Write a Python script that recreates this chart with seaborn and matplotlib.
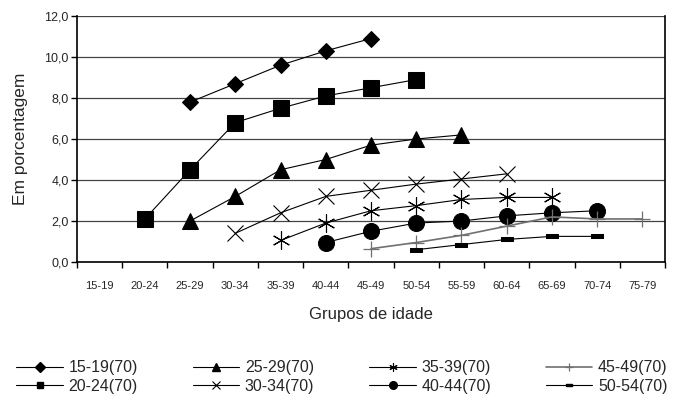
import matplotlib
matplotlib.use("Agg")
import matplotlib.pyplot as plt
import seaborn as sns
import pandas as pd
from matplotlib.lines import Line2D
from matplotlib.ticker import FixedLocator, NullFormatter, FixedFormatter

categories = ['15-19', '20-24', '25-29', '30-34', '35-39', '40-44', '45-49',
              '50-54', '55-59', '60-64', '65-69', '70-74', '75-79']

series_names = ['15-19(70)', '20-24(70)', '25-29(70)', '30-34(70)',
                '35-39(70)', '40-44(70)', '45-49(70)', '50-54(70)']

s15_19_x = ['25-29', '30-34', '35-39', '40-44', '45-49']
s15_19_y = [7.8, 8.7, 9.6, 10.3, 10.9]
s20_24_x = ['20-24', '25-29', '30-34', '35-39', '40-44', '45-49', '50-54']
s20_24_y = [2.1, 4.5, 6.8, 7.5, 8.1, 8.5, 8.9]
s25_29_x = ['25-29', '30-34', '35-39', '40-44', '45-49', '50-54', '55-59']
s25_29_y = [2.0, 3.2, 4.5, 5.0, 5.7, 6.0, 6.2]
s30_34_x = ['30-34', '35-39', '40-44', '45-49', '50-54', '55-59', '60-64']
s30_34_y = [1.4, 2.4, 3.2, 3.5, 3.8, 4.05, 4.3]
s35_39_x = ['35-39', '40-44', '45-49', '50-54', '55-59', '60-64', '65-69']
s35_39_y = [1.05, 1.9, 2.5, 2.75, 3.05, 3.15, 3.15]
s40_44_x = ['40-44', '45-49', '50-54', '55-59', '60-64', '65-69', '70-74']
s40_44_y = [0.95, 1.5, 1.9, 2.0, 2.25, 2.4, 2.5]
s45_49_x = ['45-49', '50-54', '55-59', '60-64', '65-69', '70-74', '75-79']
s45_49_y = [0.65, 0.95, 1.3, 1.75, 2.2, 2.1, 2.1]
s50_54_x = ['50-54', '55-59', '60-64', '65-69', '70-74']
s50_54_y = [0.6, 0.85, 1.1, 1.25, 1.25]

y_ticks = [0, 2, 4, 6, 8, 10, 12]
y_tick_labels = ['0,0', '2,0', '4,0', '6,0', '8,0', '10,0', '12,0']

sns.set_style("white")
plt.rcParams['font.family'] = ['Liberation Sans', 'DejaVu Sans']

fig = plt.figure(figsize=(6.93, 4.0), dpi=100)
ax = fig.add_axes([77/693, 1-262/400, (665-77)/693, (262-16)/400])

dash = [(-1, -0.38), (1, -0.38), (1, 0.38), (-1, 0.38), (-1, -0.38)]
styles = [
    dict(marker='D', markersize=8, color='black'),
    dict(marker='s', markersize=11, color='black'),
    dict(marker='^', markersize=12, color='black'),
    dict(marker='x', markersize=12, color='black', markeredgewidth=0.8),
    dict(marker=(6, 2, 0), markersize=13, color='black', markeredgewidth=0.8),
    dict(marker='o', markersize=11.5, color='black'),
    dict(marker='+', markersize=12, color='#707070', markeredgewidth=0.9),
    dict(marker=dash, markersize=8, color='black'),
]
legend_ms = [5, 5, 5.5, 5.5, 6, 5.5, 5.5, 4.5]
xs = [s15_19_x, s20_24_x, s25_29_x, s30_34_x, s35_39_x, s40_44_x, s45_49_x, s50_54_x]
ys = [s15_19_y, s20_24_y, s25_29_y, s30_34_y, s35_39_y, s40_44_y, s45_49_y, s50_54_y]

handles = []
for name, x, y, st, lms in zip(series_names, xs, ys, styles, legend_ms):
    df = pd.DataFrame({'pos': [categories.index(c) for c in x], 'val': y})
    lw = 1.2 if st['color'] != 'black' else 0.8
    sns.lineplot(data=df, x='pos', y='val', ax=ax, legend=False,
                 linewidth=lw, markeredgecolor=st['color'],
                 markerfacecolor=st['color'], **st)
    hst = dict(st)
    hst['markersize'] = lms
    handles.append(Line2D([], [], linewidth=lw, markeredgecolor=st['color'],
                          markerfacecolor=st['color'], **hst))

ax.set_xlim(-0.5, len(categories) - 0.5)
ax.set_ylim(0, 12)
ax.set_yticks(y_ticks)
ax.set_yticklabels(y_tick_labels, fontsize=9)
ax.yaxis.grid(True, color='#444444', linewidth=0.9)
ax.set_axisbelow(True)

ax.xaxis.set_major_locator(FixedLocator([i - 0.5 for i in range(len(categories) + 1)]))
ax.xaxis.set_major_formatter(NullFormatter())
ax.xaxis.set_minor_locator(FixedLocator(list(range(len(categories)))))
ax.xaxis.set_minor_formatter(FixedFormatter(categories))
ax.tick_params(axis='x', which='major', direction='out', length=4, width=1, color='black', bottom=True)
ax.tick_params(axis='x', which='minor', length=0, pad=14, labelsize=8)
ax.tick_params(axis='y', which='major', direction='out', length=4, width=1, color='black', left=True, pad=2)

for side in ['left', 'bottom', 'right']:
    ax.spines[side].set_visible(True)
    ax.spines[side].set_color('black')
    ax.spines[side].set_linewidth(1.2)
ax.spines['top'].set_visible(False)

ax.set_xlabel('Grupos de idade', fontsize=12, labelpad=11)
ax.set_ylabel('Em porcentagem', fontsize=12.5, labelpad=12)

fig.legend(handles, series_names, loc='lower left', bbox_to_anchor=(0.003, -0.02),
           ncol=4, frameon=False, fontsize=11.5,
           handlelength=2.9, columnspacing=3.45, handletextpad=0.35,
           labelspacing=0.2)

fig.savefig('out.png', dpi=100)
